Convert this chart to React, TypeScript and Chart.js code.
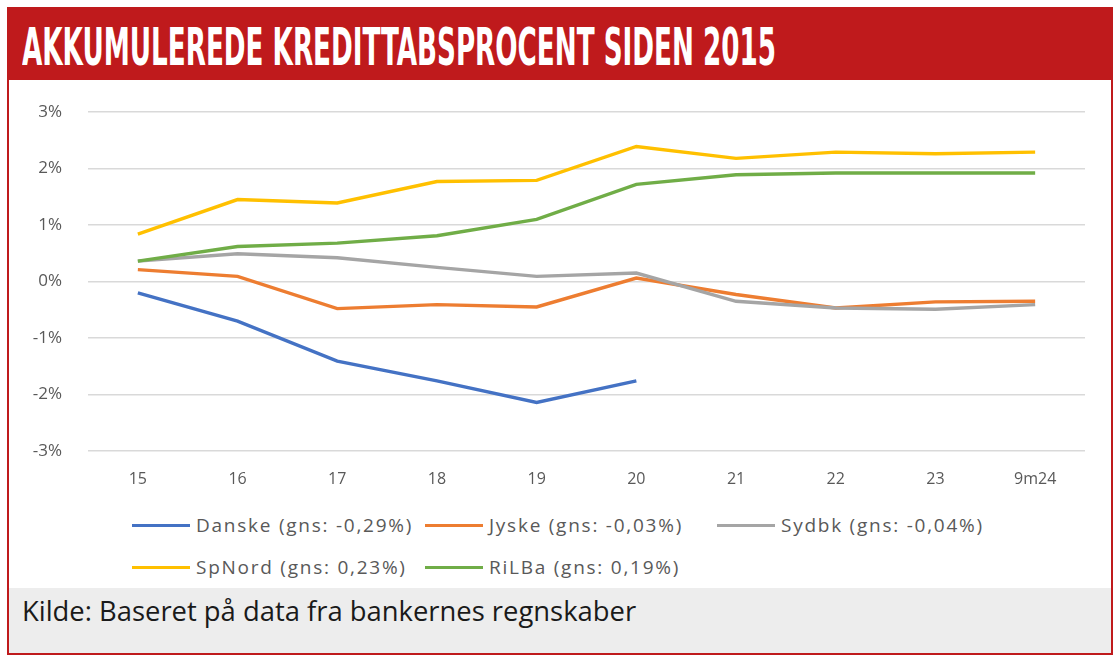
import React, { useEffect, useRef } from "react";
import { Chart, registerables } from "chart.js";

Chart.register(...registerables);

const categories = ["15", "16", "17", "18", "19", "20", "21", "22", "23", "9m24"];
const danske = [-0.2, -0.7, -1.41, -1.76, -2.14, -1.76, null, null, null, null];
const jyske = [0.21, 0.09, -0.48, -0.41, -0.45, 0.06, -0.23, -0.47, -0.36, -0.35];
const sydbk = [0.36, 0.49, 0.42, 0.25, 0.09, 0.15, -0.35, -0.47, -0.49, -0.41];
const spnord = [0.84, 1.45, 1.39, 1.77, 1.79, 2.39, 2.18, 2.29, 2.26, 2.29];
const rilba = [0.36, 0.62, 0.68, 0.81, 1.1, 1.72, 1.89, 1.92, 1.92, 1.92];
const seriesNames = [
  "Danske (gns: -0,29%)",
  "Jyske (gns: -0,03%)",
  "Sydbk (gns: -0,04%)",
  "SpNord (gns: 0,23%)",
  "RiLBa (gns: 0,19%)",
];
const seriesColors = ["#4472C4", "#ED7D31", "#A5A5A5", "#FFC000", "#70AD47"];
const yTicks = [-3, -2, -1, 0, 1, 2, 3];
const titleText = "AKKUMULEREDE KREDITTABSPROCENT SIDEN 2015";
const sourceText = "Kilde: Baseret på data fra bankernes regnskaber";

const RED = "#BF1A1C";

export default function App() {
  const canvasRef = useRef<HTMLCanvasElement | null>(null);
  const titleRef = useRef<HTMLSpanElement | null>(null);

  useEffect(() => {
    const t = titleRef.current;
    if (t) {
      const w = t.getBoundingClientRect().width;
      if (w > 0) t.style.transform = `scaleX(${754 / w})`;
    }
    const canvas = canvasRef.current;
    if (!canvas) return;
    const data = [danske, jyske, sydbk, spnord, rilba];
    const chart = new Chart(canvas, {
      type: "line",
      data: {
        labels: categories,
        datasets: data.map((d, i) => ({
          label: seriesNames[i],
          data: d,
          borderColor: seriesColors[i],
          backgroundColor: seriesColors[i],
          borderWidth: 3.4,
          pointRadius: 0,
          tension: 0,
          spanGaps: false,
          order: 4 - i,
        })),
      },
      options: {
        animation: false,
        responsive: false,
        maintainAspectRatio: false,
        layout: { padding: { left: 0, right: 24, top: 30, bottom: 0 } },
        plugins: { legend: { display: false }, tooltip: { enabled: false } },
        scales: {
          x: {
            offset: true,
            grid: { display: false, drawTicks: false },
            border: { display: false },
            ticks: {
              color: "#595959",
              padding: 19,
              font: { family: "'Open Sans'", size: 16 },
              maxRotation: 0,
            },
            afterFit: (s: any) => {
              s.height = 49;
            },
          },
          y: {
            min: -3,
            max: 3,
            afterBuildTicks: (s: any) => {
              s.ticks = yTicks.map((v) => ({ value: v }));
            },
            grid: { color: "#D9D9D9", lineWidth: 1.5, drawTicks: false },
            border: { display: false },
            ticks: {
              color: "#595959",
              padding: 26,
              font: { family: "'Open Sans'", size: 17 },
              callback: (v: any) => `${v}%`,
            },
            afterFit: (s: any) => {
              s.width = 79;
              s.paddingTop = 0;
              s.paddingBottom = 0;
            },
          },
        },
      },
    });
    return () => chart.destroy();
  }, []);

  const legendItems = [
    { i: 0, x: 132, y: 525 },
    { i: 1, x: 425, y: 525 },
    { i: 2, x: 717, y: 525 },
    { i: 3, x: 132, y: 567 },
    { i: 4, x: 425, y: 567 },
  ];

  return (
    <div style={{ position: "absolute", left: 0, top: 0, width: 1118, height: 660, background: "#fff", overflow: "hidden" }}>
      <div
        style={{
          position: "absolute",
          left: 7,
          top: 7,
          width: 1106,
          height: 648,
          boxSizing: "border-box",
          border: `2px solid ${RED}`,
        }}
      />
      <div style={{ position: "absolute", left: 7, top: 7, width: 1106, height: 73, background: RED }} />
      <span
        ref={titleRef}
        style={{
          position: "absolute",
          left: 22,
          top: 17,
          color: "#fff",
          fontFamily: "'DejaVu Sans Condensed', 'DejaVu Sans'",
          fontWeight: "bold",
          fontStretch: "condensed",
          fontSize: 52,
          lineHeight: "60px",
          whiteSpace: "nowrap",
          transformOrigin: "0 0",
        }}
      >
        {titleText}
      </span>
      <canvas
        ref={canvasRef}
        width={1100}
        height={418}
        style={{ position: "absolute", left: 9, top: 82, width: 1100, height: 418 }}
      />
      {legendItems.map(({ i, x, y }) => (
        <div key={i} style={{ position: "absolute", left: x, top: y - 13, height: 26, display: "flex", alignItems: "center" }}>
          <div style={{ width: 58, height: 3, background: seriesColors[i] }} />
          <span
            style={{
              marginLeft: 6,
              color: "#595959",
              fontFamily: "'Open Sans'",
              fontSize: 19,
              letterSpacing: 1.75,
              whiteSpace: "nowrap",
            }}
          >
            {seriesNames[i]}
          </span>
        </div>
      ))}
      <div style={{ position: "absolute", left: 9, top: 588, width: 1102, height: 65, background: "#EDEDED" }} />
      <span
        style={{
          position: "absolute",
          left: 22,
          top: 592,
          color: "#1a1a1a",
          fontFamily: "'Open Sans'",
          fontSize: 27.4,
          lineHeight: "38px",
          whiteSpace: "nowrap",
        }}
      >
        {sourceText}
      </span>
    </div>
  );
}
